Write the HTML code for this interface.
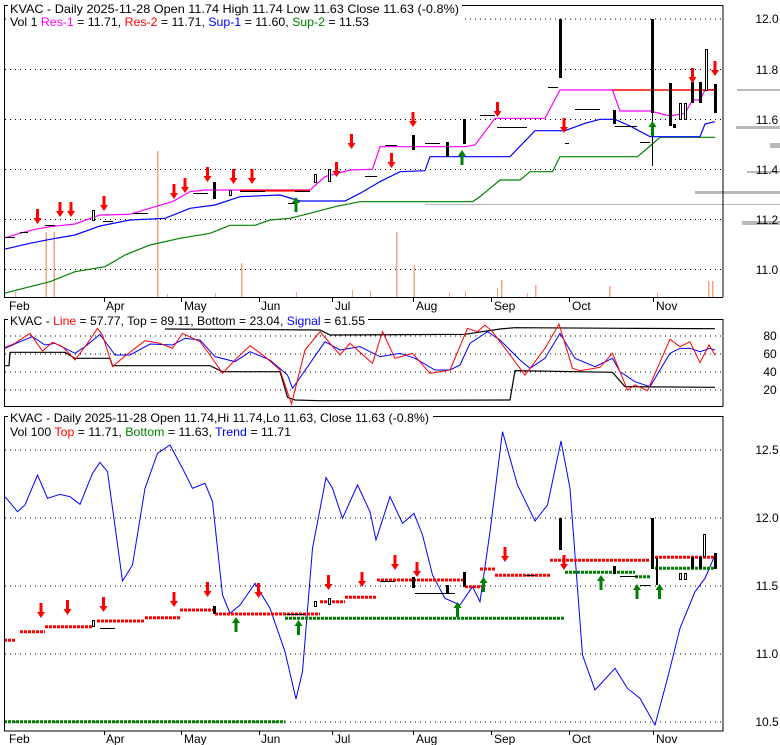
<!DOCTYPE html>
<html><head><meta charset="utf-8"><style>
html,body{margin:0;padding:0;background:#fff;width:780px;height:745px;overflow:hidden}
svg{display:block;font-family:"Liberation Sans",sans-serif;font-size:12px}
</style></head><body>
<svg width="780" height="745" viewBox="0 0 780 745" xmlns="http://www.w3.org/2000/svg">
<!-- ===== Panel 1 ===== -->
<g stroke="#000" stroke-dasharray="1,4" stroke-width="1">
<line x1="5" y1="19" x2="722" y2="19"/><line x1="5" y1="69.5" x2="722" y2="69.5"/><line x1="5" y1="119.5" x2="722" y2="119.5"/><line x1="5" y1="169.5" x2="722" y2="169.5"/><line x1="5" y1="219.5" x2="722" y2="219.5"/><line x1="5" y1="269.5" x2="722" y2="269.5"/>
</g>
<g fill="#b8b8b8">
<rect x="737" y="89" width="45" height="2"/><rect x="736" y="126" width="46" height="3"/><rect x="770" y="143" width="12" height="5"/><rect x="747" y="171" width="35" height="2"/><rect x="695" y="191" width="87" height="3"/><rect x="425" y="204" width="357" height="1"/><rect x="742" y="221" width="40" height="4"/>
</g>
<g fill="#f4a582">
<rect x="45.5" y="232" width="1.5" height="65"/><rect x="53.5" y="232" width="1.5" height="65"/><rect x="157" y="151" width="1.5" height="146"/><rect x="241" y="263" width="1.5" height="34"/><rect x="396" y="232" width="1.5" height="65"/><rect x="413.5" y="265" width="1.5" height="32"/><rect x="501" y="280" width="1.5" height="17"/><rect x="535" y="285" width="1.5" height="12"/><rect x="609" y="286" width="1.5" height="11"/><rect x="708" y="281" width="1.5" height="16"/><rect x="712" y="281" width="1.5" height="16"/>
<rect x="15" y="292" width="1" height="5"/><rect x="167" y="294" width="1" height="3"/><rect x="215" y="293" width="1" height="4"/><rect x="296" y="292" width="1" height="5"/><rect x="352" y="290" width="1" height="7"/><rect x="370" y="291" width="1" height="6"/><rect x="449" y="292" width="1" height="5"/><rect x="465" y="291" width="1" height="6"/><rect x="657" y="292" width="1" height="5"/><rect x="497" y="288" width="1" height="9"/><rect x="527" y="293" width="1" height="4"/>
</g>
<g transform="scale(0.5 0.33333)" fill="none" stroke-width="1.2">
<polyline vector-effect="non-scaling-stroke" stroke="#008000" points="8,880 60,860 100,845 150,815 210,800 250,765 300,735 360,715 420,700 460,676 510,676 540,660 580,655 620,640 670,620 720,605 945,605 960,590 1000,540 1040,540 1060,515 1105,515 1120,470 1275,470 1300,438 1320,412 1430,412"/>
<polyline vector-effect="non-scaling-stroke" stroke="#0000ff" points="8,748 60,730 100,718 150,705 200,678 260,660 330,655 380,625 430,615 480,590 560,585 600,603 690,603 720,580 760,545 800,515 850,512 860,470 1020,470 1070,392 1130,392 1170,370 1200,358 1230,358 1260,378 1300,410 1400,410 1410,372 1430,365"/>
<polyline vector-effect="non-scaling-stroke" stroke="#ff00ff" points="10,713 40,700 70,688 100,680 150,672 200,645 260,643 310,620 345,605 380,575 410,570 620,570 650,530 700,510 745,508 760,440 820,440 930,440 950,435 990,355 1090,355 1120,270 1225,270 1240,333 1300,333 1340,348 1370,340 1385,300 1400,300 1410,270 1430,268"/>
<polyline vector-effect="non-scaling-stroke" stroke="#ff0000" stroke-width="2" points="480,572 620,572"/>
<polyline vector-effect="non-scaling-stroke" stroke="#ff0000" stroke-width="1.5" points="1225,270 1430,270"/>
</g>
<g fill="#000">
<rect x="559" y="19" width="3" height="59"/><rect x="651" y="19" width="3" height="94"/><rect x="652" y="113" width="1" height="53"/><rect x="669" y="83" width="3" height="43"/><rect x="673" y="124" width="3" height="4"/><rect x="613" y="110" width="3" height="14"/><rect x="463" y="119" width="3" height="25"/><rect x="446" y="142" width="3" height="15"/><rect x="412" y="135" width="3" height="15"/><rect x="213" y="182" width="3" height="17"/><rect x="691" y="82" width="3" height="21"/><rect x="699" y="82" width="3" height="21"/><rect x="714" y="84" width="3" height="29"/>
<rect x="5" y="237" width="10" height="1"/><rect x="20" y="232" width="8" height="1"/><rect x="45" y="225" width="10" height="1"/><rect x="103" y="221" width="10" height="1"/><rect x="133" y="213" width="15" height="1"/><rect x="193" y="193" width="15" height="1"/><rect x="240" y="191" width="25" height="1"/><rect x="295" y="191" width="15" height="1"/><rect x="385" y="145" width="12" height="1"/><rect x="425" y="143" width="15" height="1"/><rect x="480" y="115" width="15" height="1"/><rect x="497" y="127" width="30" height="1"/><rect x="548" y="87" width="10" height="1"/><rect x="575" y="109" width="25" height="1"/><rect x="615" y="126" width="22" height="1"/><rect x="640" y="142" width="10" height="1"/><rect x="288" y="203" width="8" height="1"/><rect x="365" y="176" width="12" height="1"/><rect x="565" y="143" width="4" height="1"/>
</g>
<g fill="#fff" stroke="#000" stroke-width="1">
<rect x="705.5" y="49.5" width="2" height="41"/><rect x="684.5" y="103.5" width="2" height="16"/><rect x="679.5" y="103.5" width="2" height="16"/><rect x="314.5" y="174.5" width="2" height="8"/><rect x="328.5" y="169.5" width="2" height="12"/><rect x="92.5" y="210.5" width="2" height="10"/><rect x="229.5" y="190.5" width="2" height="5"/>
</g>
<defs>
<path id="dn" d="M-1.5,-15 h3 v9 h2.5 l-4,6 l-4,-6 h2.5z" fill="#ff0000"/>
<path id="up" d="M-1.5,15 h3 v-9 h2.5 l-4,-6 l-4,6 h2.5z" fill="#008000"/>
</defs>
<g>
<use href="#dn" x="37.5" y="224"/><use href="#dn" x="60" y="217"/><use href="#dn" x="71" y="217"/><use href="#dn" x="104" y="211"/><use href="#dn" x="174" y="199"/><use href="#dn" x="185" y="193"/><use href="#dn" x="207.5" y="182"/><use href="#dn" x="233.5" y="184"/><use href="#dn" x="252" y="184"/><use href="#dn" x="351.5" y="149"/><use href="#dn" x="391.5" y="168"/><use href="#dn" x="336.5" y="177"/><use href="#dn" x="413" y="127"/><use href="#dn" x="497.5" y="117"/><use href="#dn" x="564" y="133"/><use href="#dn" x="692.5" y="83"/><use href="#dn" x="715" y="76"/>
<use href="#up" x="296" y="197"/><use href="#up" x="462" y="150"/><use href="#up" x="652.5" y="121"/>
</g>
<line x1="4.5" y1="5" x2="4.5" y2="297" stroke="#000"/><line x1="723" y1="5" x2="723" y2="297" stroke="#000"/><line x1="4" y1="297.5" x2="723" y2="297.5" stroke="#000"/><line x1="4" y1="5.5" x2="723" y2="5.5" stroke="#000"/>
<rect x="8" y="0" width="454" height="28" fill="#fff"/>
<text x="10" y="13" textLength="449" lengthAdjust="spacingAndGlyphs">KVAC - Daily 2025-11-28 Open 11.74  High 11.74  Low 11.63  Close 11.63 (-0.8%)</text>
<text x="10" y="26" textLength="359" lengthAdjust="spacingAndGlyphs">Vol 1 <tspan fill="#ff00ff">Res-1</tspan> = 11.71, <tspan fill="#ff0000">Res-2</tspan> = 11.71, <tspan fill="#0000ff">Sup-1</tspan> = 11.60, <tspan fill="#008000">Sup-2</tspan> = 11.53</text>
<g text-anchor="middle">
<text x="767" y="23">12.0</text><text x="767" y="74">11.8</text><text x="767" y="124">11.6</text><text x="767" y="174">11.4</text><text x="767" y="224">11.2</text><text x="767" y="274">11.0</text>
</g>
<g stroke="#000"><line x1="104.5" y1="297" x2="104.5" y2="302"/><line x1="181.5" y1="297" x2="181.5" y2="302"/><line x1="259.5" y1="297" x2="259.5" y2="302"/><line x1="332.5" y1="297" x2="332.5" y2="302"/><line x1="413.5" y1="297" x2="413.5" y2="302"/><line x1="491.5" y1="297" x2="491.5" y2="302"/><line x1="569.5" y1="297" x2="569.5" y2="302"/><line x1="653.5" y1="297" x2="653.5" y2="302"/></g>
<g><text x="9" y="310">Feb</text><text x="106" y="310">Apr</text><text x="184" y="310">May</text><text x="261" y="310">Jun</text><text x="335" y="310">Jul</text><text x="416" y="310">Aug</text><text x="494" y="310">Sep</text><text x="572" y="310">Oct</text><text x="656" y="310">Nov</text></g>

<!-- ===== Panel 2 ===== -->
<g stroke="#000" stroke-dasharray="1,4"><line x1="5" y1="336" x2="722" y2="336"/><line x1="5" y1="354" x2="722" y2="354"/><line x1="5" y1="372" x2="722" y2="372"/><line x1="5" y1="390" x2="722" y2="390"/></g>
<g transform="translate(0 290) scale(0.5 0.33333)" fill="none">
<polyline vector-effect="non-scaling-stroke" stroke="#000" stroke-width="1.2" points="10,227 18,227 20,187 130,187 150,205 220,205 225,227 420,227 445,245 560,245 575,322 590,330 640,332 1020,330 1030,242 1225,247 1250,290 1430,292"/>
<polyline vector-effect="non-scaling-stroke" stroke="#000" stroke-width="1.2" points="330,117 640,120 660,135 930,133 1000,117 1030,113 1250,115 1430,116"/>
<polyline vector-effect="non-scaling-stroke" stroke="#0000ff" points="10,175 40,155 65,140 90,165 110,160 150,190 170,170 200,133 230,195 260,195 300,162 345,165 370,145 400,150 430,200 470,215 500,185 540,210 575,255 585,295 620,220 650,155 680,180 720,170 760,200 800,190 830,205 870,240 900,240 920,225 940,160 975,125 1000,150 1040,210 1060,235 1090,205 1120,130 1150,205 1190,230 1225,205 1240,245 1270,275 1300,290 1340,190 1360,175 1380,175 1400,185 1420,175 1430,180"/>
<polyline vector-effect="non-scaling-stroke" stroke="#ff0000" points="10,172 30,160 60,130 85,183 105,157 125,170 150,210 175,160 195,115 205,135 225,230 250,198 290,152 320,160 345,175 365,130 400,155 420,195 445,250 470,210 500,167 530,200 560,240 583,342 610,180 640,125 680,195 700,160 745,220 765,125 790,205 825,190 860,250 900,240 935,115 955,125 970,105 985,125 1010,175 1050,255 1090,175 1118,102 1145,235 1160,242 1200,232 1225,190 1255,300 1270,285 1295,302 1340,148 1360,170 1380,155 1400,218 1418,165 1430,195"/>
</g>
<rect x="4.5" y="319.5" width="718.5" height="87" fill="none" stroke="#000"/>
<rect x="8" y="313" width="360" height="13" fill="#fff"/>
<text x="10" y="325" textLength="355" lengthAdjust="spacingAndGlyphs">KVAC - <tspan fill="#ff0000">Line</tspan> = 57.77, Top = 89.11, Bottom = 23.04, <tspan fill="#0000ff">Signal</tspan> = 61.55</text>
<g text-anchor="middle"><text x="770" y="340">80</text><text x="770" y="358">60</text><text x="770" y="376">40</text><text x="770" y="394">20</text></g>

<!-- ===== Panel 3 ===== -->
<g stroke="#000" stroke-dasharray="1,4"><line x1="5" y1="450" x2="722" y2="450"/><line x1="5" y1="518" x2="722" y2="518"/><line x1="5" y1="586" x2="722" y2="586"/><line x1="5" y1="654" x2="722" y2="654"/><line x1="5" y1="722" x2="722" y2="722"/></g>
<g transform="translate(0 405) scale(0.5 0.33333)" fill="none">
<polyline vector-effect="non-scaling-stroke" stroke="#0000ff" points="10,275 35,320 50,300 75,210 95,280 120,268 140,275 160,298 185,205 200,172 215,200 245,528 265,480 290,250 315,145 340,120 365,190 385,250 410,235 425,290 445,570 460,625 480,600 510,535 540,610 570,740 592,882 605,800 625,430 652,218 665,250 685,340 715,240 740,320 752,405 780,275 805,355 828,325 845,390 865,510 890,580 920,600 945,545 960,590 980,380 1005,80 1035,240 1070,348 1095,300 1122,108 1140,250 1165,750 1190,855 1230,790 1255,850 1280,880 1310,960 1335,820 1360,670 1390,560 1410,520 1430,450"/>
</g>
<g stroke="#ff0000" stroke-width="3" stroke-dasharray="3,1" fill="none">
<line x1="4" y1="640.3" x2="16" y2="640.3"/><line x1="20" y1="631.7" x2="45" y2="631.7"/><line x1="45" y1="626.7" x2="92" y2="626.7"/><line x1="97" y1="621" x2="145" y2="621"/><line x1="145" y1="617.7" x2="180" y2="617.7"/><line x1="180" y1="610" x2="215" y2="610"/><line x1="215" y1="614" x2="320" y2="614"/><line x1="320" y1="601.7" x2="345" y2="601.7"/><line x1="345" y1="597.3" x2="377" y2="597.3"/><line x1="377" y1="580" x2="465" y2="580"/><line x1="465" y1="586.7" x2="482" y2="586.7"/><line x1="480" y1="569" x2="495" y2="569"/><line x1="495" y1="575.3" x2="550" y2="575.3"/><line x1="550" y1="560.3" x2="650" y2="560.3"/><line x1="655" y1="557.3" x2="715" y2="557.3"/>
</g>
<g stroke="#008000" stroke-width="3" stroke-dasharray="3,1" fill="none">
<line x1="4" y1="721.7" x2="285" y2="721.7"/><line x1="285" y1="618.3" x2="565" y2="618.3"/><line x1="565" y1="572.3" x2="635" y2="572.3"/><line x1="635" y1="576.7" x2="650" y2="576.7"/><line x1="655" y1="568.3" x2="715" y2="568.3"/>
</g>
<g fill="#000">
<rect x="559" y="518" width="3" height="32"/><rect x="651" y="518" width="3" height="51"/><rect x="463" y="572" width="3" height="15"/><rect x="446" y="585" width="3" height="8"/><rect x="412" y="577" width="3" height="11"/><rect x="213" y="606" width="3" height="8"/><rect x="691" y="557" width="3" height="12"/><rect x="699" y="557" width="3" height="12"/><rect x="714" y="553" width="3" height="16"/><rect x="613" y="566" width="3" height="8"/><rect x="656" y="558" width="2" height="27"/>
<rect x="380" y="581" width="15" height="1"/><rect x="415" y="593" width="40" height="1"/><rect x="620" y="576" width="18" height="1"/><rect x="285" y="614" width="20" height="1"/><rect x="100" y="628" width="15" height="1"/><rect x="525" y="575" width="10" height="1"/><rect x="640" y="585" width="10" height="1"/>
</g>
<g fill="#fff" stroke="#000"><rect x="703.5" y="534.5" width="2" height="22"/><rect x="679.5" y="573.5" width="2" height="6"/><rect x="684.5" y="573.5" width="2" height="6"/><rect x="328.5" y="598.5" width="2" height="6"/><rect x="314.5" y="601.5" width="2" height="5"/><rect x="92.5" y="620.5" width="2" height="6"/></g>
<g>
<use href="#dn" x="41" y="618"/><use href="#dn" x="67.5" y="615"/><use href="#dn" x="103.5" y="612"/><use href="#dn" x="174" y="607"/><use href="#dn" x="207.5" y="597"/><use href="#dn" x="258.5" y="598"/><use href="#dn" x="328.5" y="590"/><use href="#dn" x="362" y="587"/><use href="#dn" x="395" y="570"/><use href="#dn" x="417" y="577"/><use href="#dn" x="505" y="562"/><use href="#dn" x="564" y="570"/>
<use href="#up" x="236" y="617"/><use href="#up" x="298.5" y="620"/><use href="#up" x="457.5" y="602"/><use href="#up" x="483.5" y="577"/><use href="#up" x="601" y="575"/><use href="#up" x="637" y="584"/><use href="#up" x="659.5" y="584"/>
</g>
<rect x="4.5" y="416.5" width="718.5" height="314.5" fill="none" stroke="#000"/>
<rect x="8" y="410" width="425" height="12" fill="#fff"/>
<text x="10" y="422" textLength="419" lengthAdjust="spacingAndGlyphs">KVAC - Daily 2025-11-28 Open 11.74,Hi 11.74,Lo 11.63, Close 11.63 (-0.8%)</text>
<text x="10" y="436" textLength="281" lengthAdjust="spacingAndGlyphs">Vol 100 <tspan fill="#ff0000">Top</tspan> = 11.71, <tspan fill="#008000">Bottom</tspan> = 11.63, <tspan fill="#0000ff">Trend</tspan> = 11.71</text>
<g text-anchor="middle"><text x="767" y="454">12.5</text><text x="767" y="522">12.0</text><text x="767" y="590">11.5</text><text x="767" y="658">11.0</text><text x="767" y="726">10.5</text></g>
<g stroke="#000"><line x1="104.5" y1="731" x2="104.5" y2="735"/><line x1="181.5" y1="731" x2="181.5" y2="735"/><line x1="259.5" y1="731" x2="259.5" y2="735"/><line x1="332.5" y1="731" x2="332.5" y2="735"/><line x1="413.5" y1="731" x2="413.5" y2="735"/><line x1="491.5" y1="731" x2="491.5" y2="735"/><line x1="569.5" y1="731" x2="569.5" y2="735"/><line x1="653.5" y1="731" x2="653.5" y2="735"/></g>
<g><text x="9" y="743">Feb</text><text x="106" y="743">Apr</text><text x="184" y="743">May</text><text x="261" y="743">Jun</text><text x="335" y="743">Jul</text><text x="416" y="743">Aug</text><text x="494" y="743">Sep</text><text x="572" y="743">Oct</text><text x="656" y="743">Nov</text></g>
</svg>
</body></html>
